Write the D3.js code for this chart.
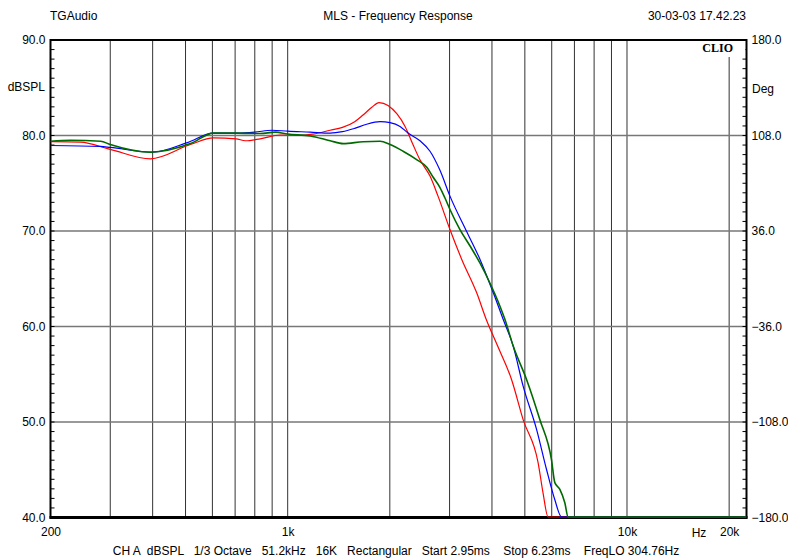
<!DOCTYPE html>
<html>
<head>
<meta charset="utf-8">
<script src="https://cdn.jsdelivr.net/npm/d3@7"></script>
<style>
  body { margin: 0; background: #fff; }
  text { font-family: "Liberation Sans", Arial, sans-serif; fill: #000; }
</style>
</head>
<body>
<div id="chart"></div>
<script>
var svgWidth = 788;
var svgHeight = 560;

// plot box
var plotLeft = 50.5, plotRight = 746.5, plotTop = 40, plotBottom = 517.5;

// series: frequency (Hz) and level (dBSPL)
var redFreq = [200, 245, 300, 394, 517, 604, 705, 750, 830, 950, 1088, 1189, 1334, 1450, 1576, 1668, 1770, 1859, 1976, 2100, 2218, 2340, 2454, 2627, 2774, 3008, 3256, 3604, 3856, 4157, 4568, 4942, 5470, 5658, 5853];
var redDb   = [79.3, 79.25, 78.5, 77.5, 79.0, 79.7, 79.6, 79.4, 79.6, 80.0, 79.95, 80.1, 80.5, 80.8, 81.4, 82.1, 82.9, 83.4, 83.1, 82.2, 80.9, 79.0, 77.4, 75.7, 73.6, 70.1, 67.0, 63.5, 60.6, 57.9, 54.4, 50.2, 45.7, 42.5, 40.0];

var blueFreq = [200, 281, 300, 400, 506, 604, 705, 800, 900, 1000, 1165, 1334, 1450, 1576, 1700, 1872, 2003, 2144, 2263, 2454, 2627, 2811, 3008, 3368, 3686, 4034, 4315, 4620, 4942, 5411, 5790, 6128, 6414];
var blueDb   = [78.9, 78.8, 78.7, 78.2, 79.2, 80.2, 80.2, 80.3, 80.5, 80.4, 80.3, 80.2, 80.35, 80.7, 81.1, 81.4, 81.3, 80.9, 80.2, 79.4, 78.3, 76.3, 73.6, 69.9, 67.0, 63.5, 60.7, 57.9, 53.7, 49.2, 45.0, 41.8, 40.0];

var greenFreq = [200, 229, 281, 300, 394, 517, 604, 705, 830, 919, 1000, 1165, 1334, 1457, 1668, 1872, 2003, 2188, 2405, 2574, 2681, 2811, 2908, 3008, 3219, 3444, 3686, 3944, 4220, 4366, 4620, 5058, 5534, 5990, 6128, 6341, 6558, 6706];
var greenDb   = [79.35, 79.45, 79.35, 79.0, 78.2, 79.1, 80.2, 80.2, 80.15, 80.3, 80.1, 79.9, 79.4, 79.1, 79.3, 79.35, 79.0, 78.3, 77.4, 76.6, 75.6, 74.5, 73.4, 72.2, 70.1, 68.4, 66.6, 64.5, 62.1, 60.7, 57.9, 54.4, 50.2, 46.0, 43.6, 42.9, 41.5, 40.0];

var freqGrid = [300, 400, 500, 600, 700, 800, 900, 1000, 2000, 3000, 4000, 5000, 6000, 7000, 8000, 9000, 10000, 20000];
var dbTicks = [40, 50, 60, 70, 80, 90];
var degTicks = [-180, -108, -36, 36, 108, 180];
var freqLabels = [200, 1000, 10000, 20000];

var svg = d3.select("#chart")
  .append("svg")
  .attr("width", svgWidth)
  .attr("height", svgHeight);

var x = d3.scaleLog().domain([200, 22500]).range([plotLeft, plotRight]);
var y = d3.scaleLinear().domain([40, 90]).range([plotBottom, plotTop]);
var yDeg = d3.scaleLinear().domain([-180, 180]).range([plotBottom, plotTop]);

// grid
svg.append("g").selectAll("line")
  .data(freqGrid)
  .enter()
  .append("line")
  .attr("x1", d => x(d)).attr("x2", d => x(d))
  .attr("y1", plotTop).attr("y2", plotBottom)
  .attr("stroke", "#333")
  .attr("stroke-width", 1);

svg.append("g").selectAll("line")
  .data([50, 60, 70, 80])
  .enter()
  .append("line")
  .attr("x1", plotLeft).attr("x2", plotRight)
  .attr("y1", d => y(d)).attr("y2", d => y(d))
  .attr("stroke", "#777")
  .attr("stroke-width", 1.5);

// small inward ticks, one per dB
var minor = d3.range(41, 90);
svg.append("g").selectAll("line")
  .data(minor)
  .enter()
  .append("line")
  .attr("x1", plotLeft).attr("x2", plotLeft + 4)
  .attr("y1", d => y(d)).attr("y2", d => y(d))
  .attr("stroke", "#000");
svg.append("g").selectAll("line")
  .data(minor)
  .enter()
  .append("line")
  .attr("x1", plotRight - 4).attr("x2", plotRight)
  .attr("y1", d => y(d)).attr("y2", d => y(d))
  .attr("stroke", "#000");

// CLIO label box hides the grid under it
svg.append("rect")
  .attr("x", 697).attr("y", plotTop + 1)
  .attr("width", plotRight - 698).attr("height", 16)
  .attr("fill", "#fff");
svg.append("text")
  .attr("x", 733).attr("y", 52)
  .attr("text-anchor", "end")
  .style("font-family", "'Liberation Serif', 'Times New Roman', serif")
  .style("font-weight", "bold")
  .style("font-size", "12px")
  .text("CLIO");

// frame
svg.append("rect")
  .attr("x", plotLeft).attr("y", plotTop)
  .attr("width", plotRight - plotLeft).attr("height", plotBottom - plotTop)
  .attr("fill", "none")
  .attr("stroke", "#000")
  .attr("stroke-width", 2);
svg.append("line")
  .attr("x1", plotLeft - 1).attr("x2", plotRight + 1)
  .attr("y1", plotBottom).attr("y2", plotBottom)
  .attr("stroke", "#000")
  .attr("stroke-width", 3);

// curves, drawn over the frame so the floor segments show on the bottom line
svg.append("clipPath").attr("id", "plotclip")
  .append("rect")
  .attr("x", plotLeft).attr("y", plotTop)
  .attr("width", plotRight - plotLeft).attr("height", plotBottom - plotTop + 1.5);

var line = d3.line()
  .x(d => x(d[0]))
  .y(d => y(Math.max(40, d[1])) - 0.5)
  .curve(d3.curveMonotoneX);

function pts(f, v) {
  var p = f.map((d, i) => [d, v[i]]);
  p.push([22500, 40]);
  return p;
}

var series = [
  { f: redFreq, v: redDb, color: "#ff0000", w: 1.2 },
  { f: blueFreq, v: blueDb, color: "#0000ff", w: 1.2 },
  { f: greenFreq, v: greenDb, color: "#006a00", w: 1.6 }
];

svg.append("g").attr("clip-path", "url(#plotclip)")
  .selectAll("path")
  .data(series)
  .enter()
  .append("path")
  .attr("fill", "none")
  .attr("stroke", d => d.color)
  .attr("stroke-width", d => d.w)
  .attr("d", d => line(pts(d.f, d.v)));

// axes (labels only)
var leftAxis = d3.axisLeft(y).tickValues(dbTicks).tickFormat(d3.format(".1f")).tickSize(0).tickPadding(4);
var rightAxis = d3.axisRight(yDeg).tickValues(degTicks).tickFormat(d3.format(".1f")).tickSize(0).tickPadding(4);
var bottomAxis = d3.axisBottom(x).tickValues(freqLabels)
  .tickFormat(d => d >= 1000 ? (d / 1000) + "k" : d).tickSize(0).tickPadding(10);

[
  svg.append("g").attr("transform", `translate(${plotLeft - 1}, 0)`).call(leftAxis),
  svg.append("g").attr("transform", `translate(${plotRight + 1}, 0)`).call(rightAxis),
  svg.append("g").attr("transform", `translate(0, ${plotBottom})`).call(bottomAxis)
].forEach(function(g) {
  g.select(".domain").remove();
  g.selectAll("text").style("font-family", "'Liberation Sans', Arial, sans-serif").style("font-size", "12px").attr("fill", "#000");
});

svg.append("text").attr("x", 699).attr("y", 537).attr("text-anchor", "middle").style("font-size", "12px").text("Hz");
svg.append("text").attr("x", 45).attr("y", 91).attr("text-anchor", "end").style("font-size", "12px").text("dBSPL");
svg.append("text").attr("x", 752).attr("y", 93).style("font-size", "12px").text("Deg");

// header and footer
svg.append("text").attr("x", 50).attr("y", 20).style("font-size", "12px").text("TGAudio");
svg.append("text").attr("x", 398).attr("y", 20).attr("text-anchor", "middle").style("font-size", "12px").text("MLS - Frequency Response");
svg.append("text").attr("x", 746).attr("y", 20).attr("text-anchor", "end").style("font-size", "12px").text("30-03-03 17.42.23");
svg.append("text").attr("x", 396).attr("y", 555).attr("text-anchor", "middle").style("font-size", "12px")
  .attr("xml:space", "preserve")
  .text("CH A  dBSPL   1/3 Octave   51.2kHz   16K   Rectangular   Start 2.95ms    Stop 6.23ms    FreqLO 304.76Hz");
</script>
</body>
</html>
